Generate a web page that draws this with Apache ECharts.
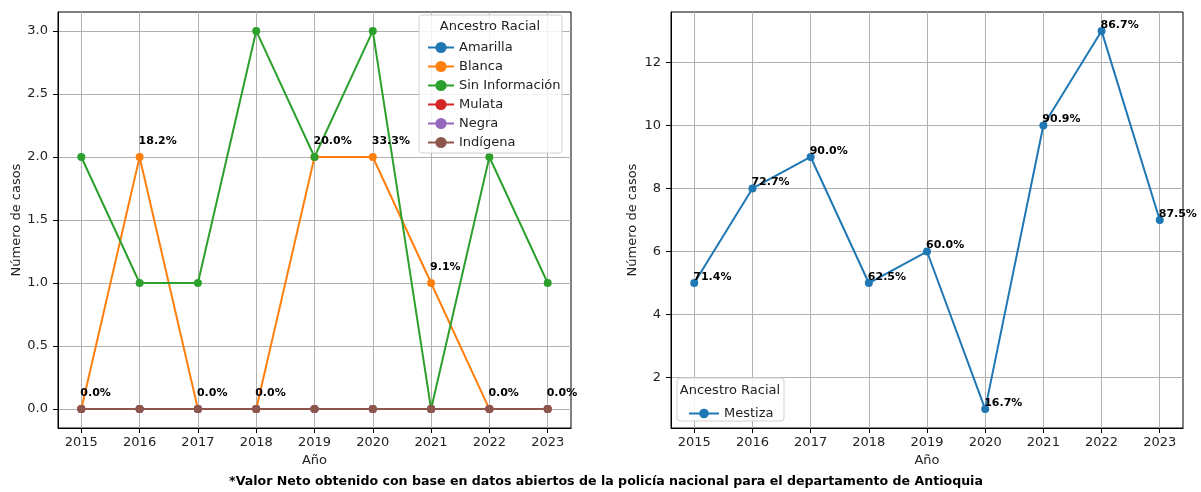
<!DOCTYPE html>
<html>
<head>
<meta charset="utf-8">
<script src="https://cdn.jsdelivr.net/npm/echarts@6/dist/echarts.min.js"></script>
<style>
html,body{margin:0;padding:0;background:#fff;}
#c{width:1201px;height:492px;}
</style>
</head>
<body>
<div id="c"></div>
<script>
// ---- data ----
var years = [2015, 2016, 2017, 2018, 2019, 2020, 2021, 2022, 2023];
var amarilla = [0, 0, 0, 0, 0, 0, 0, 0, 0];
var blanca = [0, 2, 0, 0, 2, 2, 1, 0, 0];
var sinInfo = [2, 1, 1, 3, 2, 3, 0, 2, 1];
var mulata = [0, 0, 0, 0, 0, 0, 0, 0, 0];
var negra = [0, 0, 0, 0, 0, 0, 0, 0, 0];
var indigena = [0, 0, 0, 0, 0, 0, 0, 0, 0];
var blancaPct = ['0.0%', '18.2%', '0.0%', '0.0%', '20.0%', '33.3%', '9.1%', '0.0%', '0.0%'];
var mestiza = [5, 8, 9, 5, 6, 1, 10, 13, 7];
var mestizaPct = ['71.4%', '72.7%', '90.0%', '62.5%', '60.0%', '16.7%', '90.9%', '86.7%', '87.5%'];
var leftYTicks = [0, 0.5, 1.0, 1.5, 2.0, 2.5, 3.0];
var rightYTicks = [2, 4, 6, 8, 10, 12];
var leftNames = ['Amarilla', 'Blanca', 'Sin Información', 'Mulata', 'Negra', 'Indígena'];
var leftSeriesValues = [amarilla, blanca, sinInfo, mulata, negra, indigena];
var colors = ['#1f77b4', '#ff7f0e', '#2ca02c', '#d62728', '#9467bd', '#8c564b'];

var FONT = 'DejaVu Sans';

function pairs(vals) { return years.map(function (y, i) { return [y, vals[i]]; }); }

function xAxisCfg(gridIndex) {
  return {
    type: 'value', gridIndex: gridIndex, min: 2014.6, max: 2023.4,
    name: 'Año', nameLocation: 'middle', nameGap: 26,
    nameTextStyle: { fontFamily: FONT, fontSize: 13, color: '#222' },
    axisLine: { show: true, onZero: false, lineStyle: { color: '#000', width: 1 } },
    axisTick: { show: true, customValues: years, length: 5, lineStyle: { color: '#000' } },
    axisLabel: { customValues: years, fontFamily: FONT, fontSize: 13, color: '#222', margin: 8,
      formatter: function (v) { return String(Math.round(v)); } },
    splitLine: { show: true, lineStyle: { color: '#b0b0b0', width: 1 } }
  };
}
function yAxisCfg(gridIndex, min, max, ticks, dec) {
  return {
    type: 'value', gridIndex: gridIndex, min: min, max: max,
    name: 'Número de casos', nameLocation: 'middle', nameGap: dec ? 34 : 32,
    nameTextStyle: { fontFamily: FONT, fontSize: 13, color: '#222' },
    axisLine: { show: true, onZero: false, lineStyle: { color: '#000', width: 1 } },
    axisTick: { show: true, customValues: ticks, length: 5, lineStyle: { color: '#000' } },
    axisLabel: { customValues: ticks, fontFamily: FONT, fontSize: 13, color: '#222', margin: 10,
      formatter: function (v) { return dec ? v.toFixed(1) : String(Math.round(v)); } },
    splitLine: { show: true, lineStyle: { color: '#b0b0b0', width: 1 } }
  };
}

var series = leftNames.map(function (name, k) {
  var s = {
    name: name, type: 'line', xAxisIndex: 0, yAxisIndex: 0,
    data: pairs(leftSeriesValues[k]),
    symbol: 'circle', symbolSize: 8, showSymbol: true,
    itemStyle: { color: colors[k] },
    lineStyle: { color: colors[k], width: 2 },
    emphasis: { disabled: true },
    animation: false
  };
  if (name === 'Blanca') {
    s.label = {
      show: true, position: [3, -12], align: 'left', verticalAlign: 'middle',
      fontFamily: FONT, fontSize: 11, fontWeight: 'bold', color: '#000',
      formatter: function (p) { return blancaPct[p.dataIndex]; }
    };
  }
  return s;
});
series.push({
  name: 'Mestiza', type: 'line', xAxisIndex: 1, yAxisIndex: 1,
  data: pairs(mestiza),
  symbol: 'circle', symbolSize: 8,
  itemStyle: { color: colors[0] },
  lineStyle: { color: colors[0], width: 2 },
  emphasis: { disabled: true },
  animation: false,
  label: {
    show: true, position: [3, -2], align: 'left', verticalAlign: 'middle',
    fontFamily: FONT, fontSize: 11, fontWeight: 'bold', color: '#000',
    formatter: function (p) { return mestizaPct[p.dataIndex]; }
  }
});

var chart = echarts.init(document.getElementById('c'), null, { renderer: 'canvas' });
chart.setOption({
  backgroundColor: '#fff',
  animation: false,
  color: colors,
  grid: [
    { left: 58, top: 12, width: 513, height: 416, show: true, borderColor: '#000', borderWidth: 1, backgroundColor: 'transparent' },
    { left: 671, top: 12, width: 512, height: 416, show: true, borderColor: '#000', borderWidth: 1, backgroundColor: 'transparent' }
  ],
  xAxis: [xAxisCfg(0), xAxisCfg(1)],
  yAxis: [yAxisCfg(0, -0.15, 3.15, leftYTicks, true), yAxisCfg(1, 0.4, 13.6, rightYTicks, false)],
  legend: [
    {
      data: leftNames, orient: 'vertical', left: 422, top: 36,
      itemWidth: 26, itemHeight: 14, itemGap: 6, selectedMode: false,
      textStyle: { fontFamily: FONT, fontSize: 13, color: '#222' }, z: 10
    },
    {
      data: ['Mestiza'], orient: 'vertical', left: 683, top: 402,
      itemWidth: 30, itemHeight: 12, itemGap: 5, selectedMode: false,
      textStyle: { fontFamily: FONT, fontSize: 13, color: '#222' }, z: 10
    }
  ],
  graphic: [
    { type: 'rect', shape: { x: 419, y: 15, width: 143, height: 138, r: 3 },
      style: { fill: 'rgba(255,255,255,0.85)', stroke: '#d0d0d0', lineWidth: 1 }, z: 5 },
    { type: 'text', x: 490, y: 27, style: { text: 'Ancestro Racial', fontFamily: FONT, fontSize: 13, fill: '#222', align: 'center', verticalAlign: 'middle' }, z: 6 },
    { type: 'rect', shape: { x: 677, y: 378, width: 107, height: 43, r: 3 },
      style: { fill: 'rgba(255,255,255,0.85)', stroke: '#d0d0d0', lineWidth: 1 }, z: 5 },
    { type: 'text', x: 730, y: 391, style: { text: 'Ancestro Racial', fontFamily: FONT, fontSize: 13, fill: '#222', align: 'center', verticalAlign: 'middle' }, z: 6 },
    { type: 'text', x: 606, y: 482, style: { text: '*Valor Neto obtenido con base en datos abiertos de la policía nacional para el departamento de Antioquia', fontFamily: FONT, fontSize: 12.6, fontWeight: 'bold', fill: '#000', align: 'center', verticalAlign: 'middle' }, z: 6 }
  ],
  series: series
});
</script>
</body>
</html>
